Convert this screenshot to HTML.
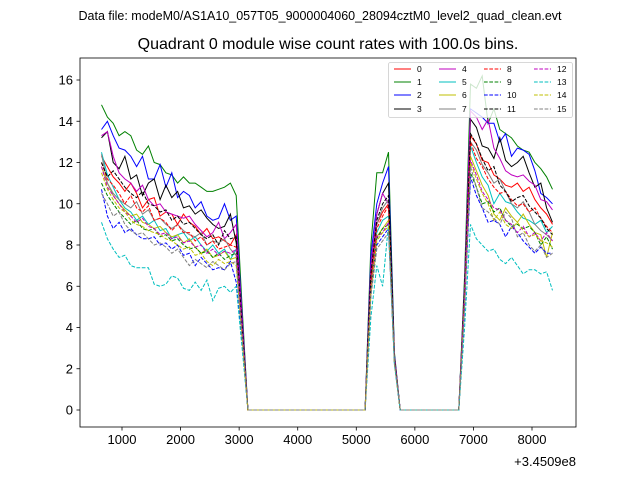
<!DOCTYPE html>
<html><head><meta charset="utf-8"><style>
html,body{margin:0;padding:0;background:#fff;}
svg{display:block;font-family:"Liberation Sans","DejaVu Sans",sans-serif;}
</style></head><body>
<svg id="chart" width="640" height="480" viewBox="0 0 640 480" xmlns="http://www.w3.org/2000/svg">
<rect width="640" height="480" fill="#fff"/>
<text x="320" y="20" font-size="12.5" text-anchor="middle">Data file: modeM0/AS1A10_057T05_9000004060_28094cztM0_level2_quad_clean.evt</text>
<text x="328" y="49" font-size="16" text-anchor="middle">Quadrant 0 module wise count rates with 100.0s bins.</text>
<g id="plot"></g>
<g id="axes"></g>
<g id="legend"></g>
</svg>
<script>
const seg1X=[650,750,850,950,1050,1150,1250,1350,1450,1550,1650,1750,1850,1950,2050,2150,2250,2350,2450,2550,2650,2750,2850,2950,3050];
const zeroX1=[3150,3250,3350,3450,3550,3650,3750,3850,3950,4050,4150,4250,4350,4450,4550,4650,4750,4850,4950,5050,5150];
const seg2X=[5250,5350,5450,5550,5650];
const zeroX2=[5750,5850,5950,6050,6150,6250,6350,6450,6550,6650,6750];
const seg3X=[6850,6950,7050,7150,7250,7350,7450,7550,7650,7750,7850,7950,8050,8150,8250,8350];
const xTicks=[1000,2000,3000,4000,5000,6000,7000,8000];
const yTicks=[0,2,4,6,8,10,12,14,16];
const names=["0","1","2","3","4","5","6","7","8","9","10","11","12","13","14","15"];
const colors=["#ff0000","#008000","#0000ff","#000000","#bf00bf","#00bfbf","#bfbf00","#808080","#ff0000","#008000","#0000ff","#000000","#bf00bf","#00bfbf","#bfbf00","#808080"];
const seg1=[
[12.3,11.8,11.3,11.0,10.6,11.0,10.5,9.8,10.2,10.3,9.4,9.6,9.5,9.0,9.5,9.1,8.9,8.5,8.8,8.3,8.4,8.2,8.0,8.5,4.2],
[14.8,14.2,13.9,13.3,13.5,13.3,12.6,12.4,12.8,12.0,11.9,11.5,11.4,11.0,11.3,11.0,11.0,10.8,10.6,10.6,10.7,10.8,11.0,10.4,5.0],
[13.6,14.0,13.3,12.7,12.6,12.3,11.8,12.3,11.2,11.2,11.9,10.8,11.5,10.3,10.6,10.4,9.8,10.1,9.4,9.2,9.3,10.0,9.2,9.4,4.6],
[13.2,13.5,12.0,11.7,12.3,11.2,11.4,10.4,11.0,11.2,10.2,10.9,10.3,10.6,9.8,9.9,9.5,9.7,9.3,9.0,8.8,8.9,9.5,8.1,4.2],
[13.3,13.5,12.3,11.5,11.2,11.0,10.6,10.9,10.2,9.9,10.0,9.6,9.5,9.4,9.3,9.4,9.0,8.7,8.4,8.6,9.1,8.3,8.6,9.0,4.4],
[12.5,11.4,10.8,10.2,9.8,9.6,9.2,9.4,9.0,9.2,8.7,8.8,8.3,8.5,8.6,8.2,8.4,8.0,7.7,8.0,7.6,7.8,7.3,7.8,3.8],
[11.8,11.0,10.4,10.0,9.7,9.4,9.5,9.1,9.0,8.8,8.9,8.6,8.4,8.5,8.1,8.3,7.9,7.6,7.8,7.4,7.5,7.7,7.3,7.4,3.6],
[12.4,11.0,10.5,10.2,10.0,9.8,10.1,9.5,9.7,9.2,9.3,9.0,8.8,9.0,8.7,8.5,8.4,8.6,8.0,8.2,8.1,8.3,7.8,7.5,3.7],
[12.0,11.2,10.9,10.5,10.0,10.4,9.8,9.6,9.9,9.2,9.3,9.1,8.7,9.0,8.6,8.6,8.2,8.4,8.0,8.2,7.8,7.9,8.0,7.9,3.9],
[11.0,10.4,10.0,9.6,9.3,9.0,9.2,8.8,8.7,8.8,8.4,8.5,8.2,8.3,8.0,7.8,7.9,7.6,7.7,7.4,7.6,7.3,7.5,7.6,3.7],
[10.7,9.4,8.8,9.1,8.6,8.8,8.5,8.3,8.3,8.4,8.0,8.1,7.8,8.0,7.5,7.6,7.0,7.4,7.1,6.8,6.9,6.8,7.2,6.2,3.3],
[12.0,11.3,11.6,11.2,10.8,10.5,10.3,10.6,10.0,9.9,9.6,9.7,9.2,9.4,9.0,9.1,8.8,8.5,8.3,8.5,8.0,8.7,8.3,8.4,4.1],
[11.8,10.8,10.4,10.0,9.6,9.4,9.1,9.3,8.9,8.8,8.5,8.6,8.3,8.4,8.1,8.2,7.9,8.0,7.6,7.8,7.5,7.7,7.6,7.8,3.8],
[9.1,8.3,7.8,7.4,7.5,7.0,6.9,6.9,6.9,6.1,6.0,6.1,6.5,6.4,5.9,5.8,6.2,5.8,6.3,5.3,5.9,6.0,5.7,6.0,3.0],
[11.5,10.7,10.2,9.8,9.6,9.2,9.0,8.9,8.7,8.6,8.5,8.3,8.2,8.0,7.8,7.9,7.5,7.6,7.2,7.0,7.3,7.1,7.2,7.0,3.5],
[10.5,10.0,9.4,9.6,9.0,8.7,8.5,8.6,8.3,8.0,8.1,7.9,7.6,7.8,7.4,7.0,7.3,7.1,6.9,7.2,7.0,6.8,7.1,7.2,3.5]];
const seg2=[
[6.5,9.0,9.6,10.0,2.5],[8.0,11.5,11.5,12.5,2.8],[7.5,10.0,11.0,11.8,2.7],[7.0,9.5,10.5,11.0,2.6],
[7.0,9.5,10.5,10.0,2.6],[6.2,8.6,9.2,9.4,2.4],[6.0,8.4,8.8,9.2,2.4],[6.4,9.0,9.8,10.2,2.5],
[6.3,8.8,9.4,9.9,2.5],[5.8,8.3,8.8,9.0,2.3],[5.6,8.0,8.4,8.8,2.3],[6.6,9.2,10.0,10.4,2.5],
[5.9,8.4,8.6,9.1,2.4],[4.5,7.0,6.0,9.0,2.2],[5.7,8.2,8.6,8.9,2.3],[5.5,7.8,8.2,8.6,2.3]];
const seg3=[
[5.8,13.3,12.9,12.1,12.0,11.4,11.2,10.9,10.8,11.0,10.6,10.8,10.2,9.8,9.5,9.0],
[6.5,15.8,15.6,16.2,13.9,14.6,13.6,13.4,13.2,12.8,12.6,12.5,12.0,11.7,11.3,10.7],
[6.2,14.6,14.4,14.2,13.9,13.9,13.0,13.4,12.3,12.7,12.6,12.4,11.6,10.5,10.3,10.0],
[6.0,14.1,13.7,12.8,12.7,12.2,13.2,12.1,11.8,12.0,12.3,11.5,10.8,11.0,9.8,9.1],
[6.0,14.5,14.2,13.6,14.1,12.7,12.2,11.6,11.4,11.3,11.4,11.1,10.9,10.2,10.1,9.7],
[5.5,12.8,12.0,11.3,10.9,10.0,10.5,10.1,10.0,9.6,9.3,9.2,9.0,9.2,8.6,8.9],
[5.4,12.3,11.6,10.9,10.4,9.5,9.2,9.8,9.4,9.1,9.5,9.0,8.6,8.5,7.4,8.6],
[5.7,13.0,12.6,11.9,11.5,11.0,11.2,10.6,10.0,9.8,10.1,9.6,9.0,8.7,8.5,8.2],
[5.6,13.0,12.2,11.8,11.2,10.8,10.5,10.6,10.2,9.9,10.0,9.6,9.8,9.3,8.9,8.6],
[5.2,11.5,10.8,10.0,10.1,9.6,9.8,9.2,8.9,9.0,8.8,8.9,8.6,8.0,8.4,7.8],
[5.0,11.3,10.4,9.8,9.1,9.2,9.0,8.4,8.9,8.6,8.2,7.9,7.6,7.9,7.6,7.6],
[5.8,13.4,12.9,12.2,11.6,11.8,10.9,10.6,10.1,10.3,10.4,9.9,9.6,9.3,8.8,8.5],
[5.3,12.1,11.4,10.6,10.2,9.8,9.7,9.2,9.0,8.6,8.9,8.4,8.6,8.2,8.6,8.2],
[4.0,9.0,8.3,8.0,7.7,7.8,7.3,7.1,7.4,7.0,6.6,6.8,6.8,6.6,6.7,5.8],
[5.3,12.0,11.2,10.5,10.0,9.2,9.6,9.0,8.8,9.1,8.7,8.4,8.5,8.2,8.1,7.9],
[5.0,11.8,10.8,9.8,9.6,9.3,9.0,9.6,9.3,8.4,8.6,8.0,7.7,8.0,7.4,7.6]];

const NS="http://www.w3.org/2000/svg";
const AX={l:80,r:576,t:58,b:427};
function xs(v){return 122+(v-1000)*(410/7000);}
function ys(v){return 410-v*(330/16);}
function mk(tag,attrs,parent){const e=document.createElementNS(NS,tag);for(const k in attrs)e.setAttribute(k,attrs[k]);parent.appendChild(e);return e;}
const plot=document.getElementById('plot'),axes=document.getElementById('axes'),leg=document.getElementById('legend');
const allX=seg1X.concat(zeroX1,seg2X,zeroX2,seg3X);
for(let s=0;s<16;s++){
  const vals=seg1[s].concat(zeroX1.map(()=>0),seg2[s],zeroX2.map(()=>0),seg3[s]);
  const pts=allX.map((x,i)=>xs(x).toFixed(1)+","+ys(vals[i]).toFixed(1)).join(" ");
  const p=mk('polyline',{points:pts,fill:'none',stroke:colors[s],'stroke-width':1,'stroke-dasharray':s>=8?'3.7,1.6':'none'},plot);
  
  
}
const frame=mk('rect',{x:AX.l,y:AX.t,width:AX.r-AX.l,height:AX.b-AX.t,fill:'none',stroke:'#000','stroke-width':0.8},axes);


xTicks.forEach(t=>{const x=xs(t);
  mk('line',{x1:x,x2:x,y1:AX.b,y2:AX.b+3.5,stroke:'#000','stroke-width':0.8},axes);
  const tx=mk('text',{x:x,y:AX.b+17,'font-size':13,'text-anchor':'middle'},axes);tx.textContent=t;
  
  });
yTicks.forEach(t=>{const y=ys(t);
  mk('line',{x1:AX.l-3.5,x2:AX.l,y1:y,y2:y,stroke:'#000','stroke-width':0.8},axes);
  const tx=mk('text',{x:AX.l-7,y:y+4.5,'font-size':13,'text-anchor':'end'},axes);tx.textContent=t;
  
  });
const off=mk('text',{x:576,y:466,'font-size':13,'text-anchor':'end'},axes);off.textContent='+3.4509e8';


const lb=mk('rect',{x:388.5,y:62.5,width:184,height:55,rx:2,fill:'#fff','fill-opacity':0.8,stroke:'#ccc','stroke-width':0.8},leg);


const colX=[394,439,484,534],rowY=[69,82,95,109];
for(let s=0;s<16;s++){const c=Math.floor(s/4),r=s%4;
  const g=mk('g',{},leg);
  
  
  mk('line',{x1:colX[c],x2:colX[c]+17,y1:rowY[r],y2:rowY[r],stroke:colors[s],'stroke-width':1,'stroke-dasharray':s>=8?'3.7,1.6':'none'},g);
  const t=mk('text',{x:colX[c]+23,y:rowY[r]+3,'font-size':8.5},g);t.textContent=names[s];}
</script>
</body></html>
